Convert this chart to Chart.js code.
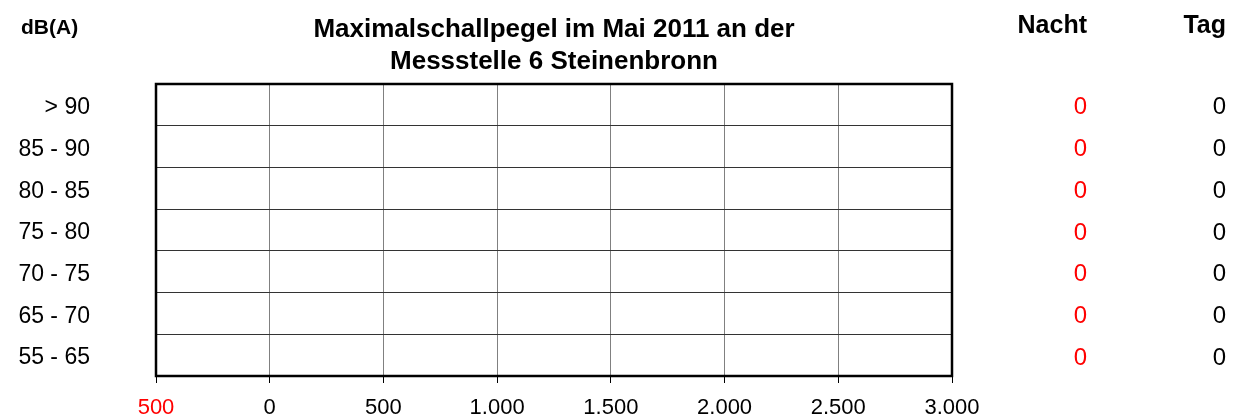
<!DOCTYPE html>
<html>
<head>
<meta charset="utf-8">
<script src="https://cdn.jsdelivr.net/npm/chart.js@4.4.1/dist/chart.umd.min.js"></script>
<style>
    html, body { margin: 0; padding: 0; background: #fff; }
    #wrap { width: 1239px; height: 420px; }
</style>
</head>
<body>
<div id="wrap"><canvas id="myChart"></canvas></div>
<script>
// Daten
const categories = ['> 90', '85 - 90', '80 - 85', '75 - 80', '70 - 75', '65 - 70', '55 - 65'];
const nachtValues = [0, 0, 0, 0, 0, 0, 0];
const tagValues = [0, 0, 0, 0, 0, 0, 0];
const xMin = -500;
const xMax = 3000;
const xStep = 500;
const titleLines = ['Maximalschallpegel im Mai 2011 an der', 'Messstelle 6 Steinenbronn'];
const unitLabel = 'dB(A)';
const nachtLabel = 'Nacht';
const tagLabel = 'Tag';

const FONT = '"Liberation Sans", Arial, sans-serif';

function formatTick(v) {
    // Tausenderpunkt, negatives Vorzeichen wird weggelassen
    return String(Math.abs(v)).replace(/\B(?=(\d{3})+(?!\d))/g, '.');
}

// Titel, Kopfzeilen und Werte rechts
const textPlugin = {
    id: 'textPlugin',
    afterDraw(chart) {
        const ctx = chart.ctx;
        const area = chart.chartArea;
        const yScale = chart.scales.y;
        ctx.save();

        // Rahmen um Diagrammfläche
        ctx.strokeStyle = '#000';
        ctx.lineWidth = 2.5;
        ctx.strokeRect(area.left, area.top, area.right - area.left, area.bottom - area.top);

        ctx.textBaseline = 'middle';
        ctx.fillStyle = '#000';

        ctx.font = 'bold 26px ' + FONT;
        ctx.textAlign = 'center';
        const cx = (area.left + area.right) / 2;
        ctx.fillText(titleLines[0], cx, 30);
        ctx.fillText(titleLines[1], cx, 62);

        ctx.font = 'bold 21px ' + FONT;
        ctx.textAlign = 'left';
        ctx.fillText(unitLabel, 21, 28);

        ctx.font = 'bold 25px ' + FONT;
        ctx.textAlign = 'right';
        ctx.fillText(nachtLabel, 1087, 26);
        ctx.fillText(tagLabel, 1226, 26);

        ctx.font = '24px ' + FONT;
        categories.forEach((c, i) => {
            const y = yScale.getPixelForValue(i) + 3;
            ctx.fillStyle = '#ff0000';
            ctx.fillText(String(nachtValues[i]), 1087, y);
            ctx.fillStyle = '#000';
            ctx.fillText(String(tagValues[i]), 1226, y);
        });
        ctx.restore();
    }
};

const ctxBar = document.getElementById('myChart').getContext('2d');
const barChart = new Chart(ctxBar, {
    type: 'bar',
    data: {
        labels: categories,
        datasets: [
            { label: nachtLabel, data: nachtValues, backgroundColor: '#ff0000' },
            { label: tagLabel, data: tagValues, backgroundColor: '#000080' }
        ]
    },
    options: {
        indexAxis: 'y',
        responsive: true,
        maintainAspectRatio: false,
        animation: false,
        layout: {
            padding: { top: 84, right: 287, left: 0, bottom: 0 }
        },
        plugins: {
            legend: { display: false },
            tooltip: { enabled: false },
            title: { display: false }
        },
        scales: {
            x: {
                type: 'linear',
                min: xMin,
                max: xMax,
                afterFit(scale) { scale.height = 44; },
                ticks: {
                    stepSize: xStep,
                    padding: 12,
                    maxRotation: 0,
                    autoSkip: false,
                    font: { family: FONT, size: 22 },
                    color: ctx => (ctx.tick && ctx.tick.value < 0) ? '#ff0000' : '#000',
                    callback: v => formatTick(v)
                },
                grid: {
                    color: '#808080',
                    lineWidth: 1,
                    tickLength: 7,
                    tickColor: '#000'
                },
                border: { display: false }
            },
            y: {
                afterFit(scale) { scale.width = 156; },
                ticks: {
                    padding: 4,
                    labelOffset: 3,
                    font: { family: FONT, size: 23 },
                    color: '#000'
                },
                grid: {
                    color: '#333',
                    lineWidth: 1,
                    tickLength: 62,
                    tickColor: 'rgba(0,0,0,0)',
                    offset: true
                },
                border: { display: false }
            }
        }
    },
    plugins: [textPlugin]
});
</script>
</body>
</html>
